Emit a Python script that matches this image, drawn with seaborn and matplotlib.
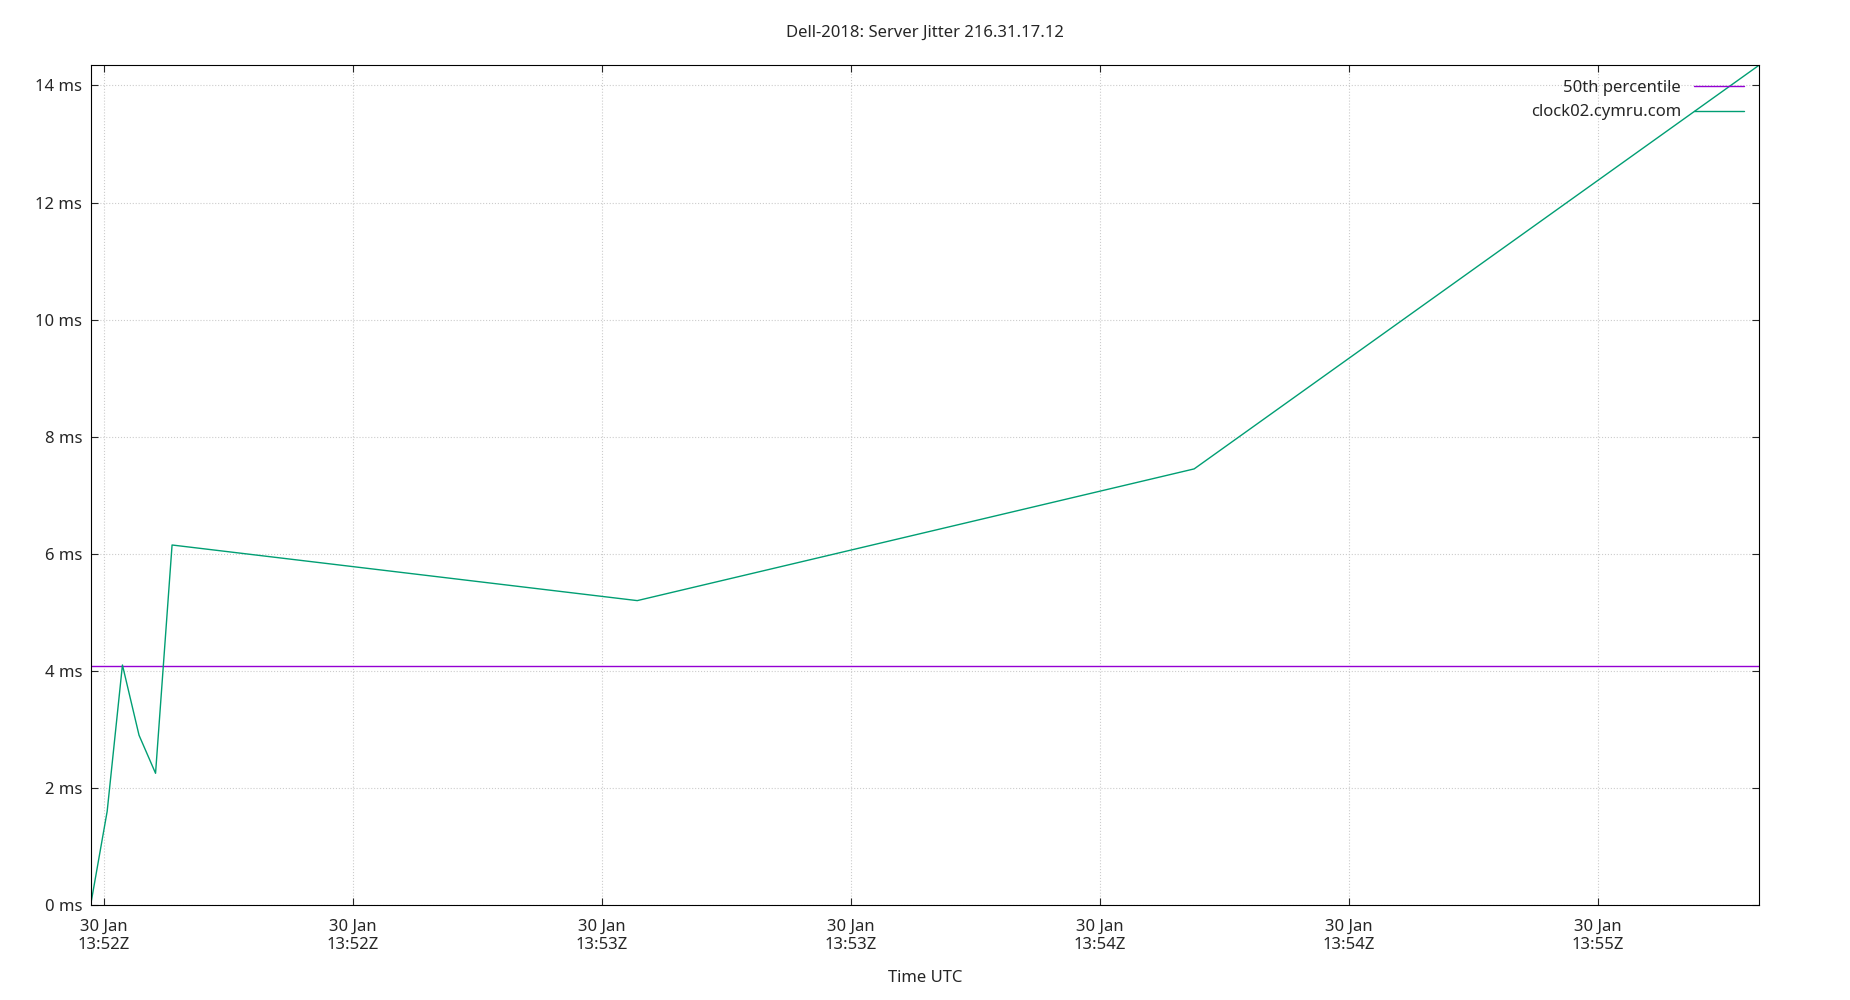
import matplotlib
matplotlib.use("Agg")
import matplotlib.pyplot as plt
import seaborn as sns
import pandas as pd

# seconds after 13:52:00 UTC, 30 Jan
secs = [-1.56, 0.43, 2.27, 4.27, 6.26, 8.25, 64.3, 131.4, 199.5]
jitter_ms = [0.0, 1.6, 4.1, 2.9, 2.25, 6.15, 5.2, 7.45, 14.35]
p50 = 4.08
tick_secs = [0, 30, 60, 90, 120, 150, 180]
tick_labels = ["30 Jan\n13:52Z", "30 Jan\n13:52Z", "30 Jan\n13:53Z", "30 Jan\n13:53Z",
               "30 Jan\n13:54Z", "30 Jan\n13:54Z", "30 Jan\n13:55Z"]

sns.set_style("white")
plt.rcParams['font.family'] = ['Noto Sans', 'DejaVu Sans']

fig = plt.figure(figsize=(18.5, 10), dpi=100)
ax = fig.add_axes([0.049, 0.095, 0.902, 0.84])
df = pd.DataFrame({'t': secs, 'v': jitter_ms})
ax.axhline(p50, color='#9400d3', lw=1, label='50th percentile')
sns.lineplot(data=df, x='t', y='v', ax=ax, color='#009e73', lw=1, label='clock02.cymru.com')

ax.set_xlim(secs[0], secs[-1])
ax.set_ylim(0, 14.35)
ax.set_xticks(tick_secs)
ax.set_xticklabels(tick_labels, fontsize=12)
ax.set_yticks(range(0, 15, 2))
ax.set_yticklabels([f"{v} ms" for v in range(0, 15, 2)], fontsize=12)
ax.grid(True, color='#cccccc', ls=':', lw=0.8)
ax.tick_params(direction='in', length=5, top=True, right=True, bottom=True, left=True)
ax.tick_params(axis='x', pad=10)
ax.tick_params(axis='y', pad=6)
for s in ax.spines.values():
    s.set_color('black')
ax.set_xlabel('Time UTC', fontsize=12, labelpad=12)
ax.set_ylabel('')
ax.set_title('Dell-2018: Server Jitter 216.31.17.12', fontsize=12, pad=20)
leg = ax.legend(loc='upper right', frameon=False, fontsize=12, markerfirst=False, handlelength=3)
fig.savefig('out.png')
